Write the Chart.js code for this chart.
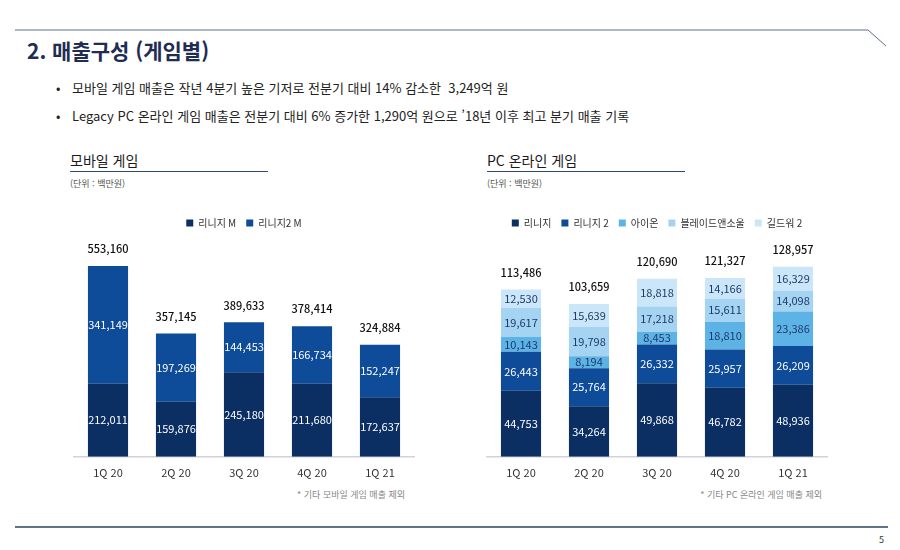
<!DOCTYPE html>
<html lang="ko">
<head>
<meta charset="utf-8">
<script src="https://cdn.jsdelivr.net/npm/chart.js@4/dist/chart.umd.min.js"></script>
<style>
  body { margin: 0; width: 900px; height: 550px; background: #fff; position: relative; overflow: hidden;
         font-family: "Noto Sans CJK KR", "Noto Sans", sans-serif; color: #222; }
  .abs { position: absolute; white-space: nowrap; }
  .title { left: 27px; top: 35px; font-size: 21px; font-weight: 700; color: #1f2d52; }
  .bullet { left: 56px; font-size: 13px; color: #222; }
  .bullet span { display: inline-block; width: 16px; }
  .head { font-size: 14px; color: #1a1a1a; }
  .rule { height: 0; border-top: 1.5px solid #2e4a6e; }
  .unit { font-size: 9px; color: #555; }
  .note { font-size: 9px; color: #888; text-align: right; }
  canvas { position: absolute; }
</style>
</head>
<body>
<svg class="abs" style="left:0;top:0" width="900" height="550">
  <polyline points="15,30 868,30 886,46" fill="none" stroke="#5a6e8a" stroke-width="1"/>
  <line x1="15" y1="527" x2="888" y2="527" stroke="#60738e" stroke-width="2"/>
</svg>
<div class="abs title">2. 매출구성 (게임별)</div>
<div class="abs bullet" style="top:78px"><span>•</span>모바일 게임 매출은 작년 4분기 높은 기저로 전분기 대비 14% 감소한&nbsp; 3,249억 원</div>
<div class="abs bullet" style="top:106px"><span>•</span>Legacy PC 온라인 게임 매출은 전분기 대비 6% 증가한 1,290억 원으로 ’18년 이후 최고 분기 매출 기록</div>

<div class="abs head" style="left:70px;top:150px">모바일 게임</div>
<div class="abs rule" style="left:70px;top:171px;width:198px"></div>
<div class="abs unit" style="left:70px;top:177px">(단위 : 백만원)</div>

<div class="abs head" style="left:487px;top:150px">PC 온라인 게임</div>
<div class="abs rule" style="left:487px;top:171px;width:198px"></div>
<div class="abs unit" style="left:487px;top:177px">(단위 : 백만원)</div>

<canvas id="mobileChart" style="left:60px;top:208px" width="370" height="280"></canvas>
<canvas id="pcChart" style="left:475px;top:208px" width="370" height="280"></canvas>

<div class="abs note" style="left:205px;top:488px;width:200px">* 기타 모바일 게임 매출 제외</div>
<div class="abs note" style="left:622px;top:488px;width:200px">* 기타 PC 온라인 게임 매출 제외</div>
<div class="abs" style="left:879px;top:533px;font-size:9px;color:#333">5</div>

<script>
const quarters = ['1Q 20', '2Q 20', '3Q 20', '4Q 20', '1Q 21'];

// 모바일 게임 (백만원)
const lineageM = [212011, 159876, 245180, 211680, 172637];
const lineage2M = [341149, 197269, 144453, 166734, 152247];
const mobileTotals = [553160, 357145, 389633, 378414, 324884];

// PC 온라인 게임 (백만원)
const lineage = [44753, 34264, 49868, 46782, 48936];
const lineage2 = [26443, 25764, 26332, 25957, 26209];
const aion = [10143, 8194, 8453, 18810, 23386];
const bns = [19617, 19798, 17218, 15611, 14098];
const gw2 = [12530, 15639, 18818, 14166, 16329];
const pcTotals = [113486, 103659, 120690, 121327, 128957];

const fontFamily = '"Noto Sans CJK KR", "Noto Sans", sans-serif';
const fmt = v => v.toLocaleString('en-US');

// segment values inside bars + totals above
const labelPlugin = {
    id: 'labels',
    afterDatasetsDraw(chart, args, opts) {
        const ctx = chart.ctx;
        const sets = chart.data.datasets;
        ctx.save();
        ctx.textAlign = 'center';
        ctx.textBaseline = 'middle';
        ctx.font = '11px ' + fontFamily;
        sets.forEach((ds, i) => {
            chart.getDatasetMeta(i).data.forEach((bar, j) => {
                ctx.fillStyle = ds.labelColor;
                ctx.fillText(fmt(ds.data[j]), bar.x, (bar.y + bar.base) / 2);
            });
        });
        ctx.font = '500 11px ' + fontFamily;
        ctx.fillStyle = '#111';
        chart.getDatasetMeta(sets.length - 1).data.forEach((bar, j) => {
            ctx.fillText(fmt(opts.totals[j]), bar.x, bar.y - 17);
        });
        ctx.restore();
    }
};

function makeOptions(yMax, padLeft, padRight, totals) {
    return {
        responsive: false,
        animation: false,
        layout: { padding: { left: padLeft, right: padRight, top: 0, bottom: 0 } },
        plugins: {
            legend: {
                position: 'top',
                labels: {
                    boxWidth: 7, boxHeight: 7, padding: 10,
                    color: '#333',
                    font: { size: 10, family: fontFamily }
                }
            },
            tooltip: { enabled: false },
            labels: { totals: totals }
        },
        scales: {
            x: {
                stacked: true,
                grid: { display: false, drawTicks: false },
                border: { color: '#d0d4da', width: 1.5 },
                ticks: { color: '#333', padding: 9, font: { size: 11, family: fontFamily } }
            },
            y: {
                stacked: true,
                display: false,
                min: 0,
                max: yMax
            }
        }
    };
}

const barOpts = { categoryPercentage: 1, barPercentage: 0.59 };

new Chart(document.getElementById('mobileChart'), {
    type: 'bar',
    data: {
        labels: quarters,
        datasets: [
            { label: '리니지 M', data: lineageM, backgroundColor: '#0b2f62', labelColor: '#fff', ...barOpts },
            { label: '리니지2 M', data: lineage2M, backgroundColor: '#0e4c99', labelColor: '#fff', ...barOpts }
        ]
    },
    options: makeOptions(634000, 14, 16, mobileTotals),
    plugins: [labelPlugin]
});

new Chart(document.getElementById('pcChart'), {
    type: 'bar',
    data: {
        labels: quarters,
        datasets: [
            { label: '리니지', data: lineage, backgroundColor: '#0b2f62', labelColor: '#fff', ...barOpts },
            { label: '리니지 2', data: lineage2, backgroundColor: '#0e4c99', labelColor: '#fff', ...barOpts },
            { label: '아이온', data: aion, backgroundColor: '#5db2e6', labelColor: '#1d3b6a', ...barOpts },
            { label: '블레이드앤소울', data: bns, backgroundColor: '#a5d4f2', labelColor: '#1d3b6a', ...barOpts },
            { label: '길드워 2', data: gw2, backgroundColor: '#cae6f8', labelColor: '#1d3b6a', ...barOpts }
        ]
    },
    options: makeOptions(148400, 12, 18, pcTotals),
    plugins: [labelPlugin]
});
</script>
</body>
</html>
